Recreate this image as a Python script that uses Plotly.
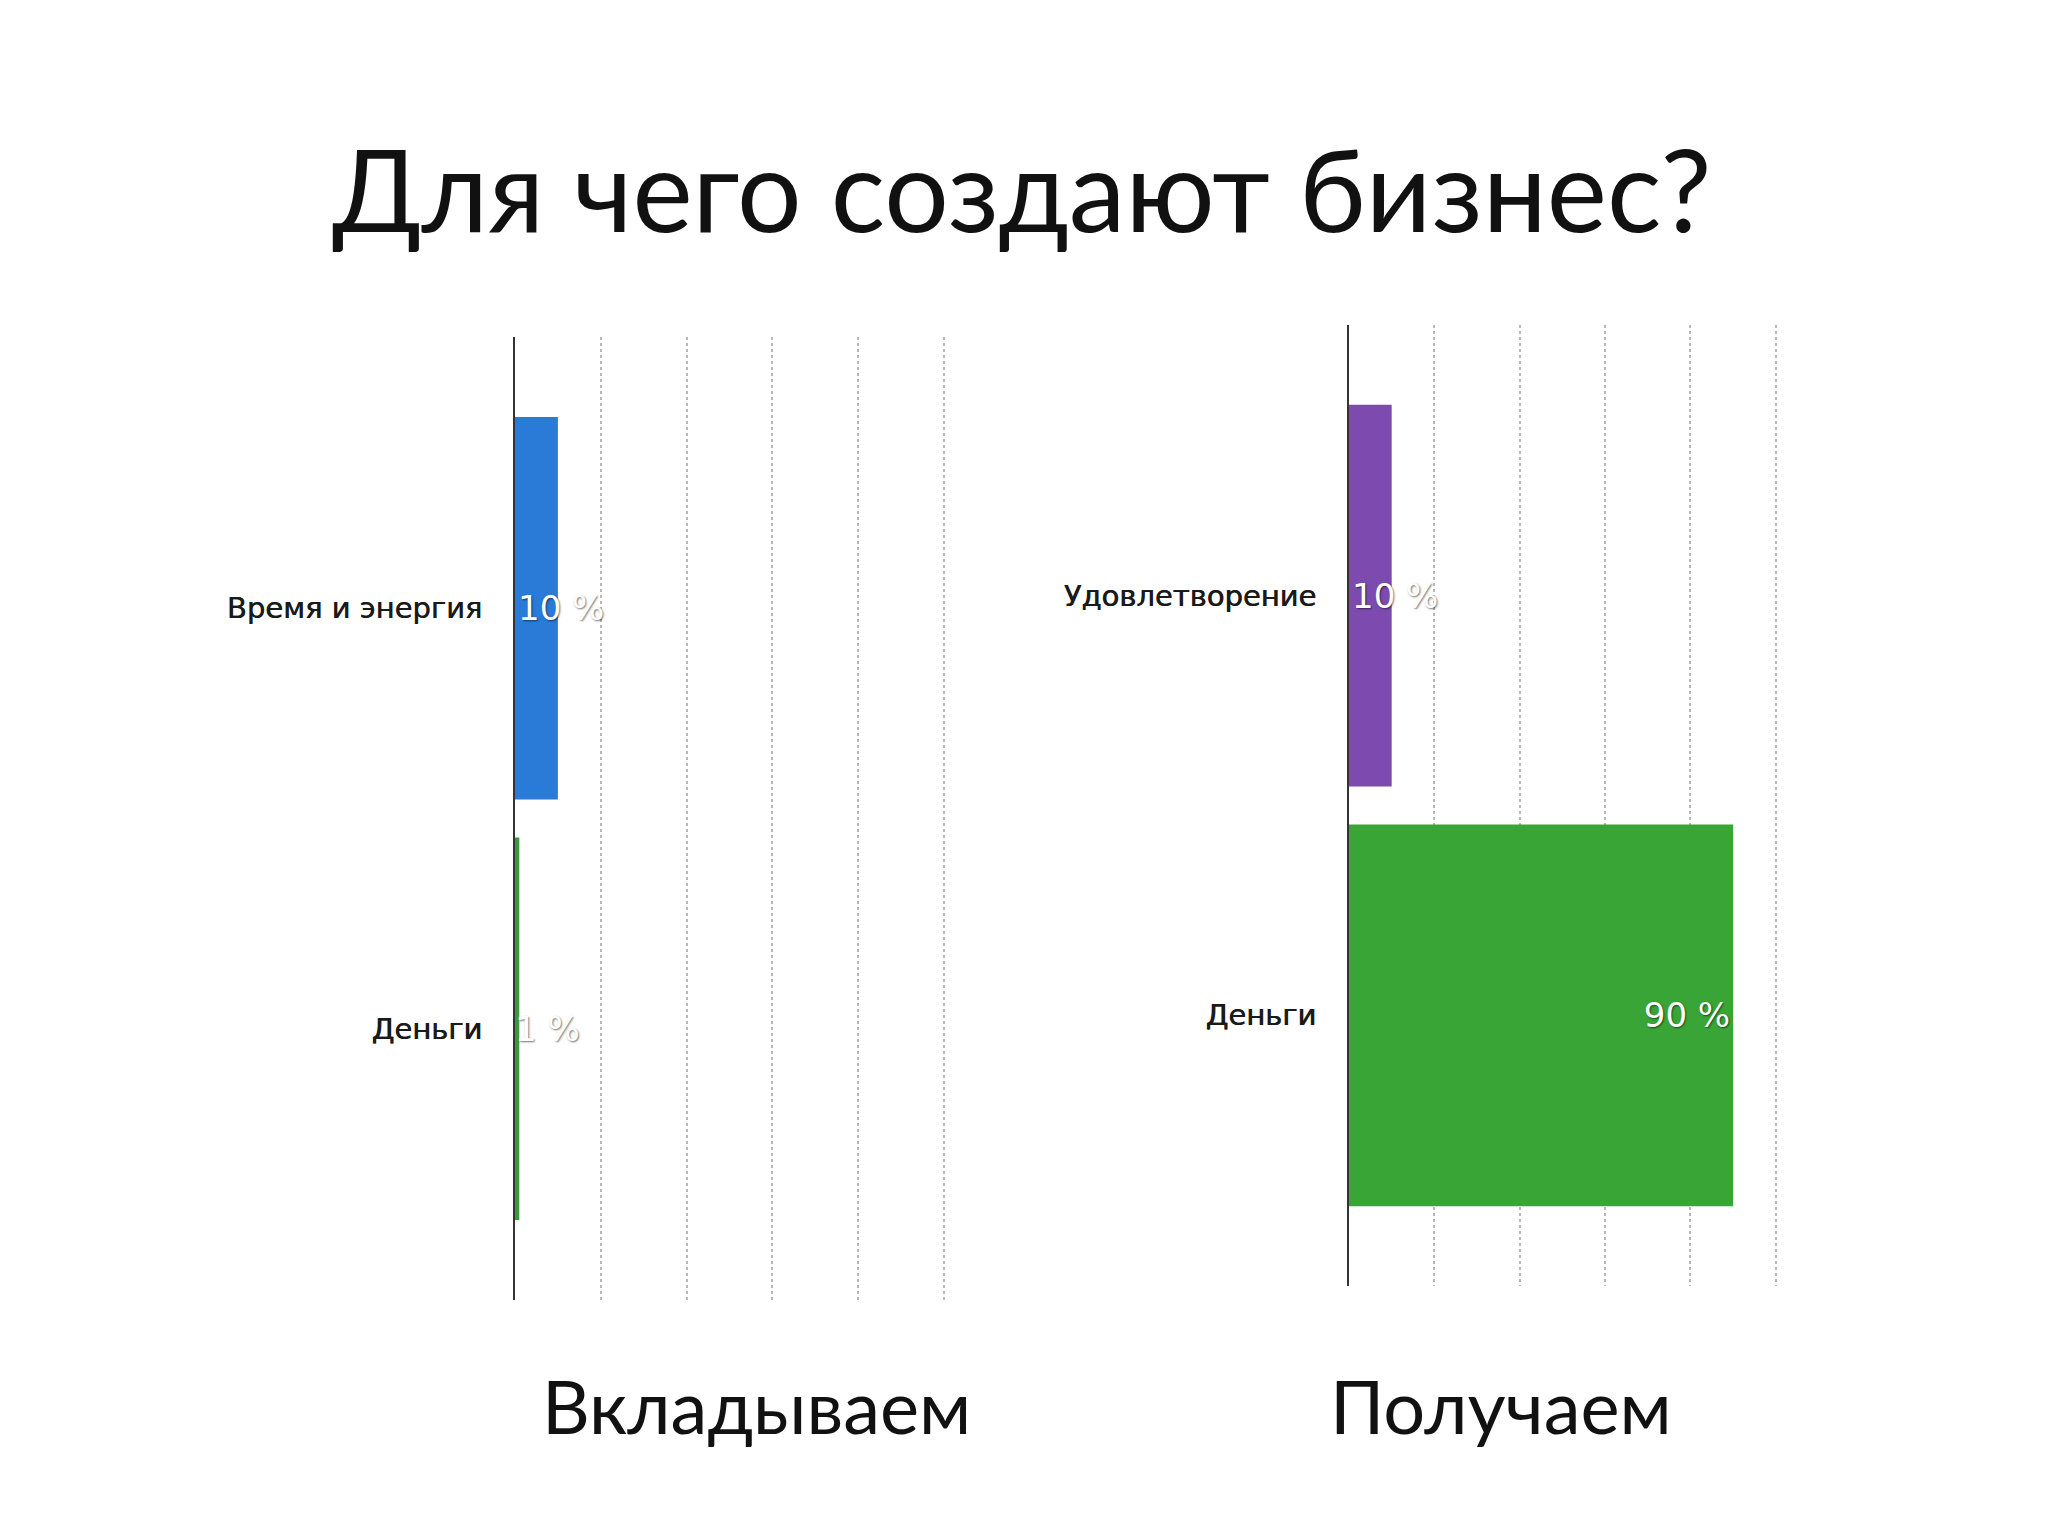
import plotly.graph_objects as go

title_text = "Для чего создают бизнес?"

left_name = "Вкладываем"
left_categories = ["Время и энергия", "Деньги"]
left_values = [10, 1]
left_colors = ["#2a7bd8", "#3a9a3a"]

right_name = "Получаем"
right_categories = ["Удовлетворение", "Деньги"]
right_values = [10, 90]
right_colors = ["#7d4bb0", "#3aa537"]

grid_ticks = [0, 20, 40, 60, 80, 100]

W, H = 2048, 1536
OFF = 8  # page body margin offset compensation

fig = go.Figure()

label_font = dict(family="DejaVu Sans", size=34, color="white",
                  shadow="1px 1px 2px rgba(0,0,0,0.55)")

def add_panel(cats, vals, colors, xa, ya, end_anchor_idx=None):
    for i, (c, v, col) in enumerate(zip(cats, vals, colors)):
        anchor = "end" if (end_anchor_idx is not None and i == end_anchor_idx) else "start"
        fig.add_trace(go.Bar(
            x=[v], y=[c], orientation="h",
            marker=dict(color=col, line=dict(width=0)),
            width=0.91,
            text=[f"{v} %"], textposition="inside", insidetextanchor=anchor,
            textangle=0, constraintext="none", textfont=label_font,
            cliponaxis=False,
            xaxis=xa, yaxis=ya, showlegend=False, hoverinfo="skip",
        ))

add_panel(left_categories, left_values, left_colors, "x", "y")
add_panel(right_categories, right_values, right_colors, "x2", "y2", end_anchor_idx=1)

def px_x(p):
    return (p - OFF) / W

def px_y(p):
    return 1 - (p - OFF) / H

xcommon = dict(range=[0, 100.5], tickvals=grid_ticks, showticklabels=False,
               showgrid=True, gridcolor="#b8b8b8", griddash="dot", gridwidth=1.5,
               zeroline=False, showline=False, fixedrange=True)
ycommon = dict(type="category", showline=True, linecolor="#333333", linewidth=2,
               showgrid=False, zeroline=False, ticks="", ticklabelstandoff=25,
               tickfont=dict(family="DejaVu Sans", size=29, color="#1a1a1a",
                             shadow="0.6px 0 0 #1a1a1a"),
               range=[1.645, -0.645], fixedrange=True)

fig.update_layout(
    width=W, height=H,
    margin=dict(l=0, r=0, t=0, b=0),
    paper_bgcolor="white", plot_bgcolor="rgba(0,0,0,0)",
    barmode="overlay",
    xaxis=dict(domain=[px_x(515), px_x(946)], anchor="y", **xcommon),
    yaxis=dict(domain=[px_y(1300), px_y(337)], anchor="x",
               categoryarray=left_categories, **ycommon),
    xaxis2=dict(domain=[px_x(1349), px_x(1778)], anchor="y2", **xcommon),
    yaxis2=dict(domain=[px_y(1286), px_y(325)], anchor="x2",
                categoryarray=right_categories, **ycommon),
    annotations=[
        dict(text=title_text, x=px_x(1021), y=px_y(187), xref="paper", yref="paper",
             xanchor="center", yanchor="middle", showarrow=False,
             font=dict(family="Lato", size=114, color="#111111")),
        dict(text=left_name, x=px_x(756), y=px_y(1405), xref="paper", yref="paper",
             xanchor="center", yanchor="middle", showarrow=False,
             font=dict(family="Lato", size=74, color="#111111")),
        dict(text=right_name, x=px_x(1501), y=px_y(1405), xref="paper", yref="paper",
             xanchor="center", yanchor="middle", showarrow=False,
             font=dict(family="Lato", size=74, color="#111111")),
    ],
)

fig.write_html("out.html")
